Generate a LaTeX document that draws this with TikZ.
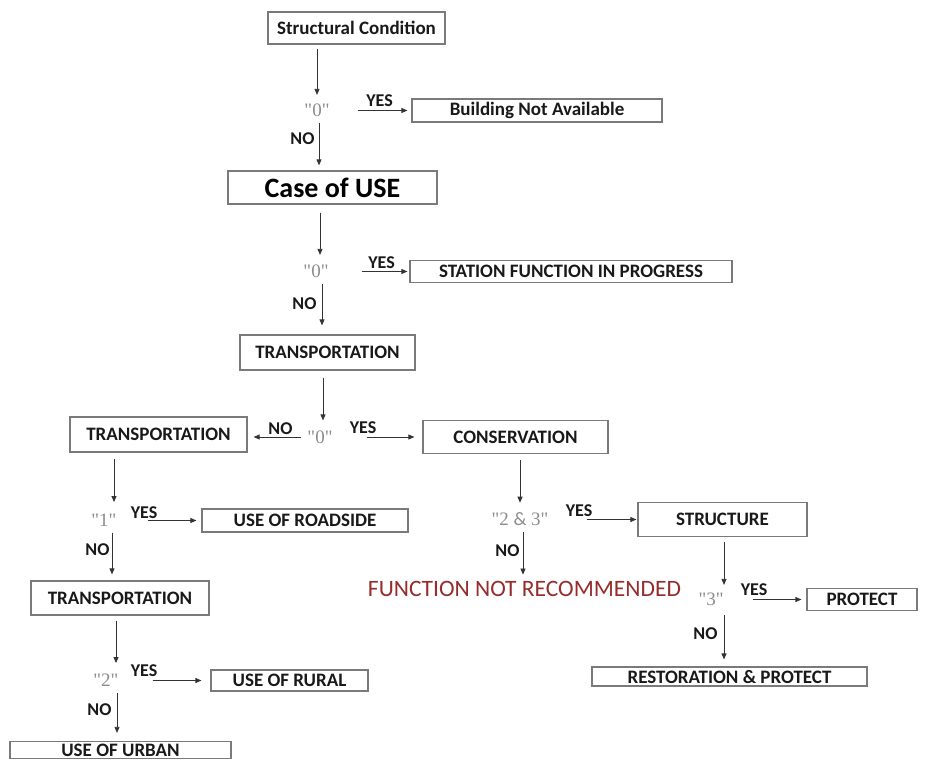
\documentclass[tikz,border=0pt]{standalone}
\usepackage{fontspec}
\setmainfont{Carlito}
\newfontfamily\qfont{Liberation Serif}
\usetikzlibrary{arrows.meta}
\definecolor{boxgray}{HTML}{7A7A7A}
\definecolor{linegray}{HTML}{333333}
\definecolor{qgray}{HTML}{8C8C8C}
\definecolor{darkred}{HTML}{962C2C}

\begin{document}
\begin{tikzpicture}[x=1pt, y=-1pt,
  box/.style={draw=boxgray, line width=1.2pt, inner sep=0pt, text=black!90,
    font=\fontsize{19}{21}\selectfont\bfseries},
  query/.style={text=qgray, inner xsep=6pt, inner ysep=6pt,
    font=\qfont\fontsize{19}{21}\selectfont},
  lbl/.style={inner sep=1pt, text=black!90, font=\fontsize{18}{20}\selectfont\bfseries},
  arr/.style={draw=linegray, line width=0.8pt, -{Triangle[length=6pt,width=5pt]}}]

  \useasboundingbox (0,0) rectangle (925,760);

  \node[box, minimum width=177pt, minimum height=32pt] (sc) at (356.5,28) {Structural Condition};
  \node[query] (q1) at (317,110.5) {"0"};
  \node[box, minimum width=250pt, minimum height=23pt] (bna) at (537,110.5) {Building Not Available};
  \node[box, minimum width=209pt, minimum height=33pt, text=black,
    font=\fontsize{28}{30}\selectfont\bfseries] (cou) at (332.5,187.5) {Case of USE};
  \node[query] (q2) at (316,271.5) {"0"};
  \node[box, minimum width=322pt, minimum height=22pt] (sfp) at (571,271.5) {STATION FUNCTION IN PROGRESS};
  \node[box, minimum width=175pt, minimum height=35pt] (tr0) at (327.5,352.5) {TRANSPORTATION};
  \node[query] (q3) at (320,437) {"0"};
  \node[box, minimum width=177pt, minimum height=35pt] (tr1) at (158.5,434.5) {TRANSPORTATION};
  \node[box, minimum width=185pt, minimum height=33pt] (cons) at (515.5,437) {CONSERVATION};
  \node[query] (q4) at (104,520.5) {"1"};
  \node[box, minimum width=206pt, minimum height=23pt] (road) at (305,520.5) {USE OF ROADSIDE};
  \node[box, minimum width=178pt, minimum height=34pt] (tr2) at (120,598) {TRANSPORTATION};
  \node[query] (q5) at (106,680.5) {"2"};
  \node[box, minimum width=157pt, minimum height=21pt] (rural) at (289.5,680.5) {USE OF RURAL};
  \node[box, minimum width=221pt, minimum height=17pt] (urban) at (120.5,750) {USE OF URBAN};
  \node[query] (q6) at (520,519.5) {"2 {\normalfont\&} 3"};
  \node[box, minimum width=169pt, minimum height=34pt] (struct) at (722.5,519.5) {STRUCTURE};
  \node[text=darkred, inner sep=6pt, font=\fontsize{23.5}{25}\selectfont] (fnr) at (524.5,588.5) {FUNCTION NOT RECOMMENDED};
  \node[query] (q7) at (711,599.5) {"3"};
  \node[box, minimum width=110pt, minimum height=22pt] (prot) at (862,599.5) {PROTECT};
  \node[box, minimum width=275pt, minimum height=19pt] (rest) at (729.5,676.5) {RESTORATION \& PROTECT};

  \node[lbl] (yes1) at (379.5,101) {YES};
  \node[lbl] (yes2) at (381.5,262.5) {YES};
  \node[lbl] (yes3) at (363,428) {YES};
  \node[lbl] (yes4) at (144,512.5) {YES};
  \node[lbl] (yes5) at (144,671) {YES};
  \node[lbl] (yes6) at (579,511) {YES};
  \node[lbl] (yes7) at (754,590) {YES};
  \node[lbl] (no1) at (302.5,139) {NO};
  \node[lbl] (no2) at (304.5,303.5) {NO};
  \node[lbl] (no3) at (280.5,429) {NO};
  \node[lbl] (no4) at (97.5,550) {NO};
  \node[lbl] (no5) at (99.5,710) {NO};
  \node[lbl] (no6) at (507.5,551) {NO};
  \node[lbl] (no7) at (705.5,634) {NO};

  \draw[arr, shorten <=4pt, shorten >=3pt] (sc.south -| q1) -- (q1);
  \draw[arr, shorten <=22pt, shorten >=4pt] (q1.east) -- (bna.west);
  \draw[arr, shorten >=5pt] ([xshift=2pt]q1.south) -- ([xshift=2pt]q1.south |- cou.north);
  \draw[arr, shorten <=8pt, shorten >=4pt] ([xshift=4pt]q2.north |- cou.south) -- ([xshift=4pt]q2.north);
  \draw[arr, shorten <=27pt, shorten >=2pt] (q2.east) -- (sfp.west);
  \draw[arr, shorten >=9pt] ([xshift=6pt]q2.south) -- ([xshift=6pt]q2.south |- tr0.north);
  \draw[arr, shorten <=7pt, shorten >=4pt] ([xshift=3pt]q3.north |- tr0.south) -- ([xshift=3pt]q3.north);
  \draw[arr, shorten >=6pt] (q3.west) -- (q3.west -| tr1.east);
  \draw[arr, shorten <=28pt, shorten >=8pt] (q3.east) -- (cons.west);
  \draw[arr, shorten <=6pt, shorten >=6pt] ([xshift=10pt]q4.north |- tr1.south) -- ([xshift=10pt]q4.north);
  \draw[arr, shorten <=25pt, shorten >=5pt] (q4.east) -- (road.west);
  \draw[arr, shorten >=6pt] ([xshift=8pt]q4.south) -- ([xshift=8pt]q4.south |- tr2.north);
  \draw[arr, shorten <=5pt, shorten >=5pt] ([xshift=10pt]q5.north |- tr2.south) -- ([xshift=10pt]q5.north);
  \draw[arr, shorten <=28pt, shorten >=9pt] (q5.east) -- (rural.west);
  \draw[arr, shorten >=8pt] ([xshift=11pt]q5.south) -- ([xshift=11pt]q5.south |- urban.north);
  \draw[arr, shorten <=6pt, shorten >=4pt] (cons.south -| q6) -- (q6);
  \draw[arr, shorten <=32pt, shorten >=1pt] (q6.east) -- (struct.west);
  \draw[arr] ([xshift=3pt]q6.south) -- ([xshift=3pt]q6.south |- fnr.north);
  \draw[arr, shorten <=5pt, shorten >=2pt] ([xshift=13pt]q7.north |- struct.south) -- ([xshift=13pt]q7.north);
  \draw[arr, shorten <=23pt, shorten >=5pt] (q7.east) -- (prot.west);
  \draw[arr, shorten <=3pt, shorten >=7pt] ([xshift=13pt]q7.south) -- ([xshift=13pt]q7.south |- rest.north);
\end{tikzpicture}
\end{document}
